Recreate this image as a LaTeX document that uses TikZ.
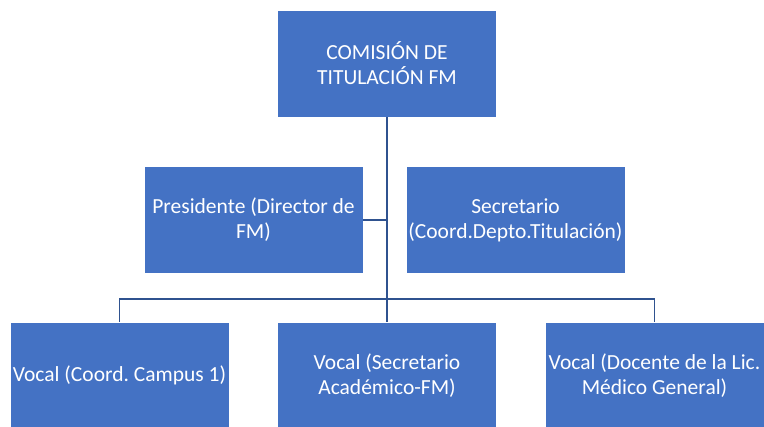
\documentclass[tikz,border=0pt]{standalone}
\usepackage{fontspec}
\setmainfont{Carlito}
\frenchspacing
\definecolor{boxblue}{HTML}{4472C4}
\definecolor{lineblue}{HTML}{2F528F}

\begin{document}
\begin{tikzpicture}[x=1pt,y=-1pt,
        cargo/.style={rectangle,fill=boxblue,draw=white,line width=0.6pt,text=white,
            minimum width=219pt,minimum height=107pt,inner sep=0pt,align=center,
            font=\fontsize{21.5}{25}\selectfont},
        enlace/.style={draw=lineblue,line width=1.5pt}]
            \useasboundingbox (0,0) rectangle (764,427);

            \node[cargo] (comision) at (387,63.5) {COMISIÓN DE\\TITULACIÓN FM};
            \node[cargo] (presidente) at (253.5,220) {Presidente (Director de\\FM)};
            \node[cargo] (secretario) at (515.5,220) {Secretario\\(Coord.Depto.Titulación)};
            \node[cargo] (vocalA) at (119.5,375.5) {Vocal (Coord. Campus 1)};
            \node[cargo] (vocalB) at (387,375.5) {Vocal (Secretario\\Académico-FM)};
            \node[cargo] (vocalC) at (654.5,375.5) {Vocal (Docente de la Lic.\\Médico General)};

            \coordinate (bus) at (387,299);
            \draw[enlace] (comision.south) -- (vocalB.north);
            \draw[enlace] (presidente.east) -- (presidente.east -| comision.south);
            \draw[enlace] (vocalA.north) |- (bus) -| (vocalC.north);
        \end{tikzpicture}
\end{document}
